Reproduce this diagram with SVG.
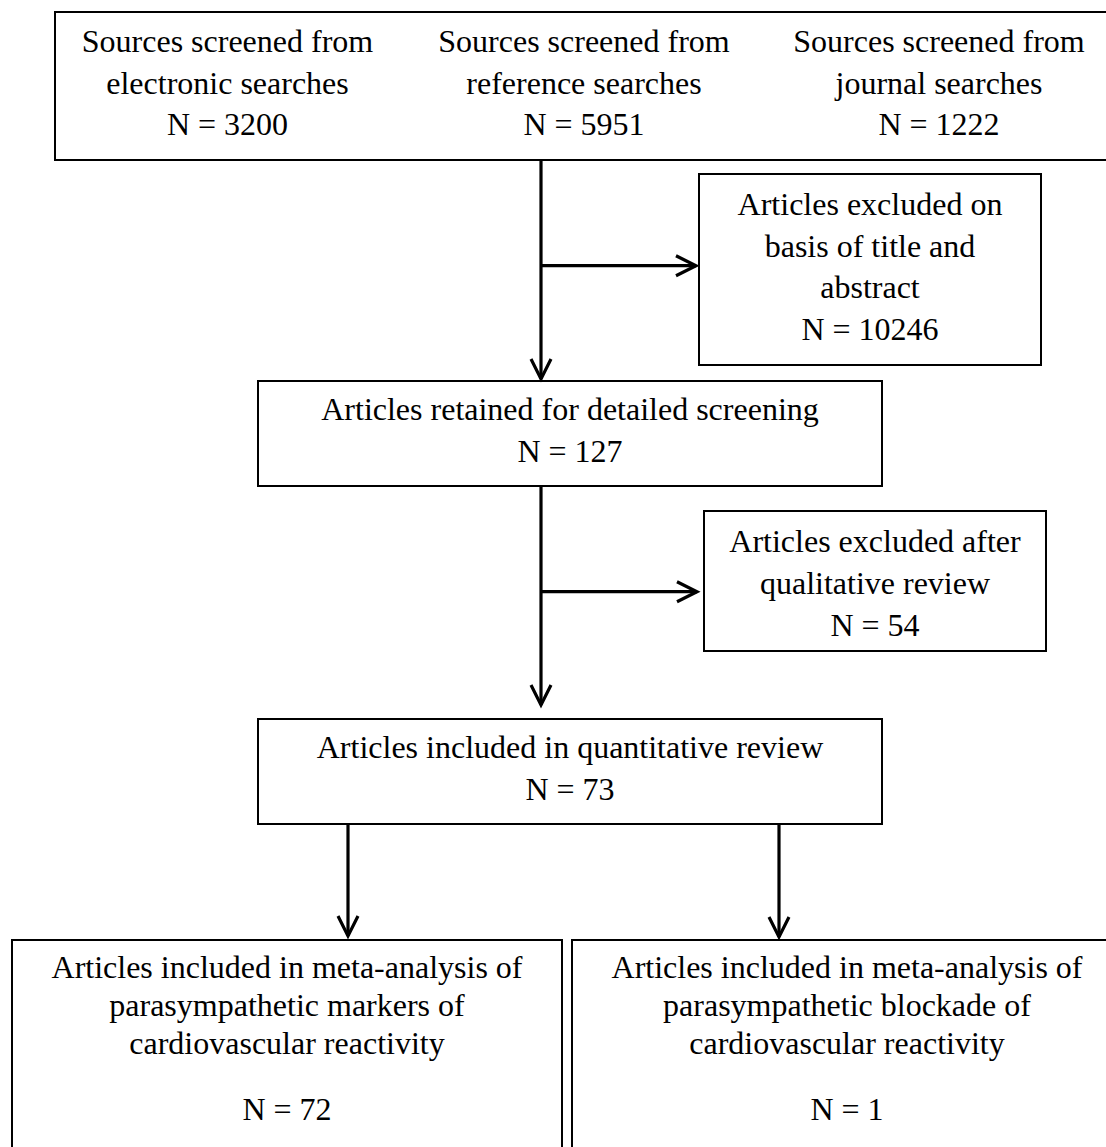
<svg xmlns="http://www.w3.org/2000/svg" width="1106" height="1147" viewBox="0 0 1106 1147">
<style>
.box{fill:#fff;stroke:#000;stroke-width:2}
.t{font-family:"Liberation Serif","Times New Roman",serif;font-size:32px;text-anchor:middle;fill:#000}
.c{fill:none;stroke:#000;stroke-width:3.2}
</style>
<defs>
<marker id="ah" markerUnits="userSpaceOnUse" markerWidth="30" markerHeight="30" viewBox="0 0 30 24" refX="23" refY="12" orient="auto">
<path d="M3,2 L23,12 L3,22" fill="none" stroke="#000" stroke-width="3.2"/>
</marker>
</defs>
<rect width="1106" height="1147" fill="#fff"/>
<g id="sources">
<rect class="box" x="55" y="12" width="1070" height="148"/>
<text class="t" x="227.5" y="52">Sources screened from</text>
<text class="t" x="227.5" y="93.5">electronic searches</text>
<text class="t" x="227.5" y="135">N = 3200</text>
<text class="t" x="584" y="52">Sources screened from</text>
<text class="t" x="584" y="93.5">reference searches</text>
<text class="t" x="584" y="135">N = 5951</text>
<text class="t" x="939" y="52">Sources screened from</text>
<text class="t" x="939" y="93.5">journal searches</text>
<text class="t" x="939" y="135">N = 1222</text>
</g>
<g id="excluded1">
<rect class="box" x="699" y="174" width="342" height="191"/>
<text class="t" x="870" y="215">Articles excluded on</text>
<text class="t" x="870" y="257">basis of title and</text>
<text class="t" x="870" y="298">abstract</text>
<text class="t" x="870" y="340">N = 10246</text>
</g>
<g id="retained">
<rect class="box" x="258" y="381" width="624" height="105"/>
<text class="t" x="570" y="420">Articles retained for detailed screening</text>
<text class="t" x="570" y="462">N = 127</text>
</g>
<g id="excluded2">
<rect class="box" x="704" y="511" width="342" height="140"/>
<text class="t" x="875" y="552">Articles excluded after</text>
<text class="t" x="875" y="594">qualitative review</text>
<text class="t" x="875" y="636">N = 54</text>
</g>
<g id="quantitative">
<rect class="box" x="258" y="719" width="624" height="105"/>
<text class="t" x="570" y="758">Articles included in quantitative review</text>
<text class="t" x="570" y="800">N = 73</text>
</g>
<g id="markers">
<rect class="box" x="12" y="940" width="550" height="230"/>
<text class="t" x="287" y="978">Articles included in meta-analysis of</text>
<text class="t" x="287" y="1016">parasympathetic markers of</text>
<text class="t" x="287" y="1054">cardiovascular reactivity</text>
<text class="t" x="287" y="1120">N = 72</text>
</g>
<g id="blockade">
<rect class="box" x="572" y="940" width="560" height="230"/>
<text class="t" x="847" y="978">Articles included in meta-analysis of</text>
<text class="t" x="847" y="1016">parasympathetic blockade of</text>
<text class="t" x="847" y="1054">cardiovascular reactivity</text>
<text class="t" x="847" y="1120">N = 1</text>
</g>
<g id="connectors">
<path class="c" d="M541 160 V379" marker-end="url(#ah)"/>
<path class="c" d="M541 265.7 H696" marker-end="url(#ah)"/>
<path class="c" d="M541 486 V705" marker-end="url(#ah)"/>
<path class="c" d="M541 591.7 H697" marker-end="url(#ah)"/>
<path class="c" d="M348 824 V936" marker-end="url(#ah)"/>
<path class="c" d="M779 824 V937" marker-end="url(#ah)"/>
</g>
</svg>
